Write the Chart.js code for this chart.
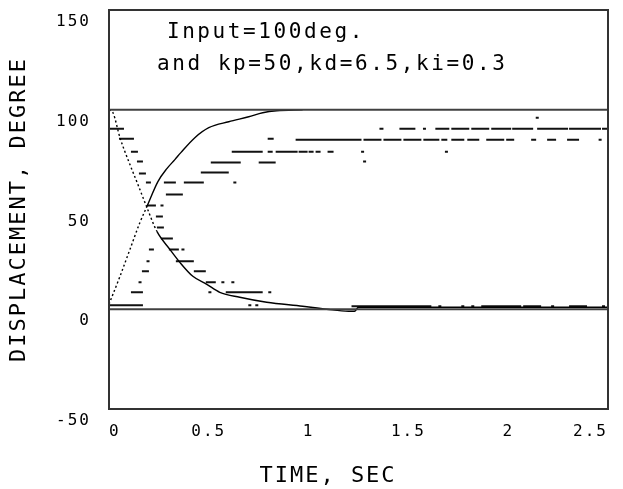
<!DOCTYPE html>
<html><head><meta charset="utf-8">
<script src="https://cdn.jsdelivr.net/npm/chart.js@4/dist/chart.umd.min.js"></script>
<style>html,body{margin:0;padding:0;background:#fff}#wrap{width:623px;height:489px}</style>
</head><body><div id="wrap"><canvas id="c" width="623" height="489"></canvas></div>
<script>
// ---- data ----
const xTicks = [0, 0.5, 1, 1.5, 2, 2.5];
const yTicks = [-50, 0, 50, 100, 150];
const refLevels = [100, 0];
const noteLines = ['Input=100deg.', 'and kp=50,kd=6.5,ki=0.3'];

// rising response curve
const riseT = [0, 0.055, 0.105, 0.155, 0.19, 0.245, 0.29, 0.33, 0.36, 0.43, 0.5, 0.6, 0.7, 0.77, 0.84, 0.97];
const riseV = [2.5, 16.5, 30, 43.5, 51.5, 64, 70.5, 75, 78.5, 86, 91, 94, 96.5, 98.5, 99.5, 100];

// falling error curve
const fallT = [0, 0.02, 0.055, 0.105, 0.145, 0.19, 0.24, 0.305, 0.355, 0.42, 0.49, 0.555, 0.655, 0.79, 0.97, 1.09, 1.2, 1.23, 1.25, 2.5];
const fallV = [100, 98.5, 86, 72.5, 62.5, 51, 39, 30, 23.5, 16.5, 12.5, 8.5, 6, 3.5, 1.5, 0, -1, -1, 1, 1];

// sampled (quantised) rising samples: start time, end time, level
const riseDashStart = [0.005,0.115,0.153,0.17,0.193,0.205,0.29,0.28,0.38,0.628,0.465,0.515,0.755,0.62,0.8,0.84,0.955,1.005,1.04,1.1,1.268,1.688,1.278,0.8,0.94,1.28,1.38,1.48,1.58,1.67,1.72,1.8,1.895,1.995,2.12,2.2,2.3,2.458,1.36,1.46,1.578,1.64,1.72,1.82,1.92,2.025,2.15,2.31,2.475,2.143];
const riseDashEnd   = [0.165,0.165,0.158,0.195,0.198,0.22,0.365,0.33,0.47,0.633,0.595,0.655,0.83,0.765,0.815,0.94,0.99,1.02,1.055,1.12,1.273,1.693,1.283,0.82,1.26,1.36,1.46,1.56,1.65,1.69,1.775,1.85,1.975,2.025,2.135,2.235,2.35,2.463,1.37,1.53,1.583,1.7,1.8,1.9,2.01,2.12,2.295,2.46,2.495,2.148];
const riseDashLevel = [2,8.5,13.5,19,24,30,57.5,63.5,63.5,63.5,68.5,73.5,73.5,79,79,79,79,79,79,79,79,79,74,85.5,85,85,85,85,85,85,85,85,85,85,85,85,85,85,90.5,90.5,90.5,90.5,90.5,90.5,90.5,90.5,90.5,90.5,90.5,96];

// sampled (quantised) falling samples
const fallDashStart = [0.005,0.055,0.115,0.145,0.155,0.19,0.195,0.263,0.24,0.245,0.265,0.305,0.368,0.34,0.43,0.49,0.568,0.618,0.503,0.59,0.803,0.703,0.738,1.22,1.655,1.77,1.82,1.87,2.08,2.22,2.31,2.475];
const fallDashEnd   = [0.07,0.12,0.14,0.165,0.18,0.205,0.23,0.268,0.265,0.27,0.315,0.345,0.373,0.42,0.48,0.53,0.573,0.623,0.508,0.765,0.808,0.708,0.743,1.61,1.66,1.775,1.825,2.06,2.16,2.225,2.39,2.48];
const fallDashLevel = [90.5,85.5,79,74,68,63.5,52,52,46.5,41,35.5,30,30,24,19,13.5,13.5,13.5,8.5,8.5,8.5,2,2,1.5,1.5,1.5,1.5,1.5,1.5,1.5,1.5,1.5];

// ---- build datasets ----
const pts = (t, v) => t.map((x, i) => ({x, y: v[i]}));
function dashData(s, e, l) {
  const d = [];
  for (let i = 0; i < s.length; i++) {
    d.push({x: s[i], y: l[i]}, {x: e[i], y: l[i]}, {x: e[i], y: null});
  }
  return d;
}
const FONT = '"DejaVu Sans Mono", monospace';
const dotted = lim => ({ borderDash: ctx => ctx.p0.parsed.x < lim ? [2, 2.5] : undefined });

const datasets = [
  ...refLevels.map(L => ({ label: 'ref ' + L, data: [{x: xTicks[0], y: L}, {x: xTicks[xTicks.length-1], y: L}],
      borderColor: '#404040', borderWidth: 2, pointRadius: 0 })),
  { label: 'rising', data: pts(riseT, riseV), borderColor: '#000', borderWidth: 1.4, pointRadius: 0,
    cubicInterpolationMode: 'monotone', segment: dotted(0.19) },
  { label: 'falling', data: pts(fallT, fallV), borderColor: '#000', borderWidth: 1.4, pointRadius: 0,
    cubicInterpolationMode: 'monotone', segment: dotted(0.24) },
  { label: 'rising samples', data: dashData(riseDashStart, riseDashEnd, riseDashLevel), borderColor: '#111',
    borderWidth: 2, pointRadius: 0, spanGaps: false, borderCapStyle: 'square' },
  { label: 'falling samples', data: dashData(fallDashStart, fallDashEnd, fallDashLevel), borderColor: '#111',
    borderWidth: 2, pointRadius: 0, spanGaps: false, borderCapStyle: 'square' }
];

const framePlugin = {
  id: 'frame',
  beforeDraw(chart) { chart.ctx.letterSpacing = '2px'; },
  afterDatasetsDraw(chart) {
    const {ctx, chartArea: a, scales} = chart;
    ctx.save();
    ctx.strokeStyle = '#333';
    ctx.lineWidth = 2;
    ctx.strokeRect(a.left, a.top, a.right - a.left, a.bottom - a.top);
    ctx.fillStyle = '#000';
    ctx.font = '21px ' + FONT;
    ctx.letterSpacing = '2.6px';
    ctx.textBaseline = 'middle';
    ctx.textAlign = 'left';
    ctx.fillText(noteLines[0], scales.x.getPixelForValue(0.29), scales.y.getPixelForValue(138.5));
    ctx.fillText(noteLines[1], scales.x.getPixelForValue(0.24), scales.y.getPixelForValue(122.5));
    ctx.restore();
  }
};
const noPad = s => { s.paddingTop = 0; s.paddingBottom = 0; s.paddingLeft = 0; s.paddingRight = 0; };

new Chart(document.getElementById('c'), {
  type: 'line',
  data: { datasets },
  plugins: [framePlugin],
  options: {
    responsive: false, animation: false, devicePixelRatio: 1,
    layout: { padding: { top: 10, right: 15, bottom: 0, left: 0 } },
    plugins: { legend: { display: false }, tooltip: { enabled: false } },
    scales: {
      x: {
        type: 'linear', min: xTicks[0], max: xTicks[xTicks.length-1],
        afterBuildTicks: s => { s.ticks = xTicks.map(v => ({value: v})); },
        afterFit: s => { s.height = 80; noPad(s); },
        grid: { display: false, drawTicks: false }, border: { display: false },
        ticks: { align: 'inner', padding: 13, color: '#000', font: { family: FONT, size: 16 }, maxRotation: 0,
                 callback: v => String(v) },
        title: { display: true, text: 'TIME, SEC    ', color: '#000', font: { family: FONT, size: 22 }, padding: { top: 5, bottom: 0 } }
      },
      y: {
        type: 'linear', min: yTicks[0], max: yTicks[yTicks.length-1],
        afterBuildTicks: s => { s.ticks = yTicks.map(v => ({value: v})); },
        afterFit: s => { s.width = 109; noPad(s); },
        grid: { display: false, drawTicks: false }, border: { display: false },
        ticks: { padding: 18, labelOffset: 12, color: '#000', font: { family: FONT, size: 16 }, callback: v => String(v) },
        title: { display: true, text: 'DISPLACEMENT, DEGREE', color: '#000', font: { family: FONT, size: 22 }, padding: { top: 6, bottom: 0 } }
      }
    }
  }
});
</script></body></html>
